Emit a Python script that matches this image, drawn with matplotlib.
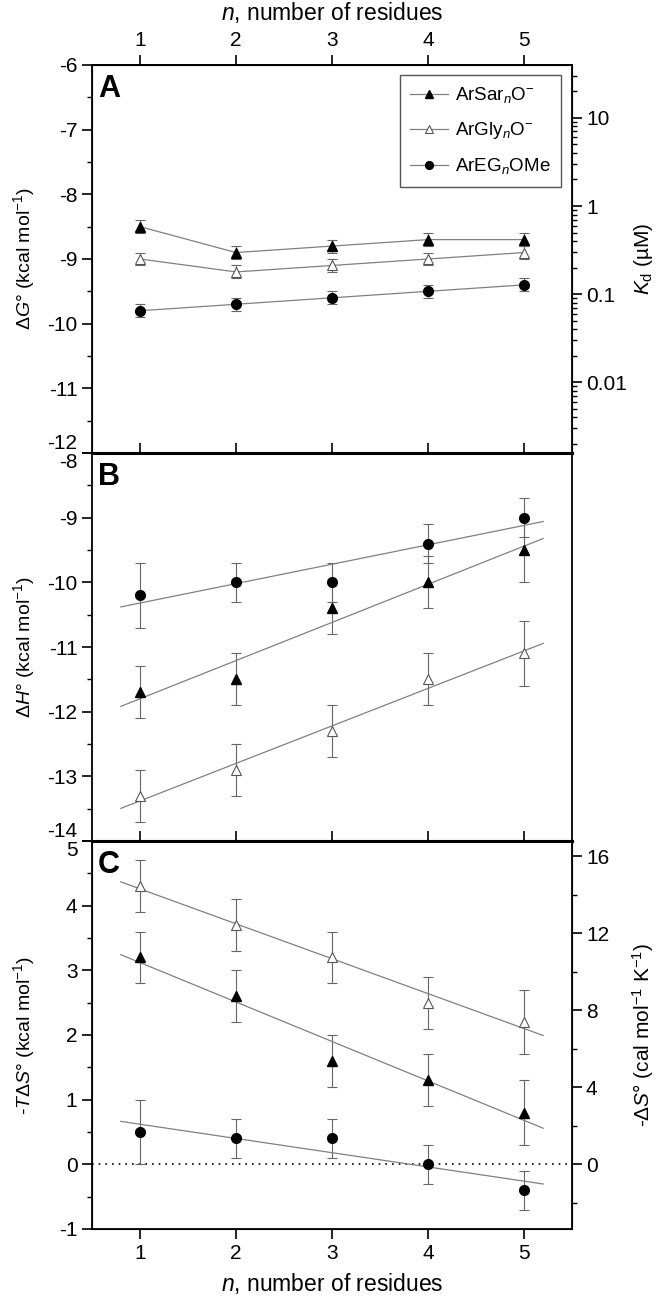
import numpy as np
import matplotlib
matplotlib.use("Agg")
import matplotlib.pyplot as plt
from matplotlib.ticker import MultipleLocator, FixedLocator, LogLocator, NullFormatter, NullLocator

plt.rcParams["font.family"] = ["Liberation Sans", "DejaVu Sans"]
plt.rcParams["mathtext.fontset"] = "custom"
plt.rcParams["mathtext.rm"] = "Liberation Sans"
plt.rcParams["mathtext.it"] = "Liberation Sans:italic"
plt.rcParams["mathtext.bf"] = "Liberation Sans:bold"
plt.rcParams["axes.unicode_minus"] = False

n = [1, 2, 3, 4, 5]

# A: free energy of binding (kcal/mol)
dG_sar = [-8.5, -8.9, -8.8, -8.7, -8.7]
dG_gly = [-9.0, -9.2, -9.1, -9.0, -8.9]
dG_eg = [-9.8, -9.7, -9.6, -9.5, -9.4]
dG_err = [0.1, 0.1, 0.1, 0.1, 0.1]

# B: enthalpy (kcal/mol)
dH_sar = [-11.7, -11.5, -10.4, -10.0, -9.5]
dH_gly = [-13.3, -12.9, -12.3, -11.5, -11.1]
dH_eg = [-10.2, -10.0, -10.0, -9.4, -9.0]
dH_sar_err = [0.4, 0.4, 0.4, 0.4, 0.5]
dH_gly_err = [0.4, 0.4, 0.4, 0.4, 0.5]
dH_eg_err = [0.5, 0.3, 0.3, 0.3, 0.3]

# C: -T dS (kcal/mol)
TdS_sar = [3.2, 2.6, 1.6, 1.3, 0.8]
TdS_gly = [4.3, 3.7, 3.2, 2.5, 2.2]
TdS_eg = [0.5, 0.4, 0.4, 0.0, -0.4]
TdS_sar_err = [0.4, 0.4, 0.4, 0.4, 0.5]
TdS_gly_err = [0.4, 0.4, 0.4, 0.4, 0.5]
TdS_eg_err = [0.5, 0.3, 0.3, 0.3, 0.3]

labels = [r"ArSar$_n$O$^{-}$", r"ArGly$_n$O$^{-}$", r"ArEG$_n$OMe"]
T = 298.0
R = 1.987e-3

line_c = "#808080"
err_c = "#666666"
styles = [dict(marker="^", mfc="black", mec="black", ms=7.5),
          dict(marker="^", mfc="white", mec="#555555", ms=7.5, mew=0.8),
          dict(marker="o", mfc="black", mec="black", ms=7)]


def kd(g):
    return np.exp(g / (R * T)) * 1e6


fig = plt.figure(figsize=(6.63, 13.03), dpi=100)
left, width = 92 / 663, 480 / 663
h = 388 / 1303
bot = 1 - 1229 / 1303
axA = fig.add_axes([left, bot + 2 * h, width, h])
axB = fig.add_axes([left, bot + h, width, h])
axC = fig.add_axes([left, bot, width, h])

# panel A
for y, st, lab in zip([dG_sar, dG_gly, dG_eg], styles, labels):
    axA.errorbar(n, y, yerr=dG_err, fmt="none", ecolor=err_c, elinewidth=0.8,
                 capsize=3.5, capthick=0.8)
    axA.plot(n, y, color=line_c, lw=0.9, label=lab, **st)

leg = axA.legend(loc="upper right", bbox_to_anchor=(0.977, 0.974), borderaxespad=0,
                 fontsize=13.5, fancybox=False, edgecolor="#555555", framealpha=1,
                 handlelength=2.0, labelspacing=0.8, borderpad=0.55, handletextpad=0.4,
                 markerscale=0.8)
leg.get_frame().set_linewidth(1.0)

axA.set_ylim(-12, -6)
axA.set_yticks(np.arange(-12, -5))
axA.set_ylabel(r"$\Delta G$° (kcal mol$^{-1}$)", fontsize=14)

axr = axA.twinx()
axr.set_yscale("log")
axr.set_ylim(kd(-12), kd(-6))
axr.yaxis.set_major_locator(FixedLocator([0.01, 0.1, 1, 10]))
axr.set_yticklabels(["0.01", "0.1", "1", "10"])
axr.yaxis.set_minor_locator(LogLocator(base=10, subs=np.arange(2, 10), numticks=20))
axr.yaxis.set_minor_formatter(NullFormatter())
axr.tick_params(axis="y", which="major", direction="out", length=7, width=1.2, labelsize=15, pad=3)
axr.tick_params(axis="y", which="minor", direction="out", length=3.5, width=1.0)
axr.set_ylabel(r"$K_\mathrm{d}$ (µM)", fontsize=15)
axr.yaxis.set_label_coords(1.125, 0.5)

top = axA.secondary_xaxis("top")
top.set_xticks(n)
top.tick_params(direction="out", length=7, width=1.2, labelsize=15, pad=4)
top.set_xlabel(r"$n$, number of residues", fontsize=16.5, labelpad=8)
top.spines["top"].set_linewidth(1.3)

# panel B
for y, e, st in zip([dH_sar, dH_gly, dH_eg], [dH_sar_err, dH_gly_err, dH_eg_err], styles):
    axB.errorbar(n, y, yerr=e, fmt="none", ecolor=err_c, elinewidth=0.8,
                 capsize=3.5, capthick=0.8)
    k, b = np.polyfit(n, y, 1)
    xf = np.array([0.8, 5.2])
    axB.plot(xf, k * xf + b, color=line_c, lw=0.9)
    axB.plot(n, y, linestyle="none", **st)
axB.set_ylim(-14, -8)
axB.set_yticks(np.arange(-14, -7))
axB.set_ylabel(r"$\Delta H$° (kcal mol$^{-1}$)", fontsize=14)

# panel C
axC.axhline(0, color="black", lw=1.2, ls=(0, (1, 3)))
for y, e, st in zip([TdS_sar, TdS_gly, TdS_eg], [TdS_sar_err, TdS_gly_err, TdS_eg_err], styles):
    axC.errorbar(n, y, yerr=e, fmt="none", ecolor=err_c, elinewidth=0.8,
                 capsize=3.5, capthick=0.8)
    k, b = np.polyfit(n, y, 1)
    xf = np.array([0.8, 5.2])
    axC.plot(xf, k * xf + b, color=line_c, lw=0.9)
    axC.plot(n, y, linestyle="none", **st)
axC.set_ylim(-1, 5)
axC.set_yticks(np.arange(-1, 6))
axC.set_ylabel(r"-$T\Delta S$° (kcal mol$^{-1}$)", fontsize=14)
axC.set_xlabel(r"$n$, number of residues", fontsize=16.5, labelpad=6)

axs = axC.twinx()
axs.set_ylim(-1000 / T, 5000 / T)
axs.set_yticks([0, 4, 8, 12, 16])
axs.yaxis.set_minor_locator(MultipleLocator(2))
axs.tick_params(axis="y", which="major", direction="out", length=7, width=1.2, labelsize=15, pad=3)
axs.tick_params(axis="y", which="minor", direction="out", length=3.5, width=1.0)
axs.set_ylabel(r"-$\Delta S$° (cal mol$^{-1}$ K$^{-1}$)", fontsize=15)
axs.yaxis.set_label_coords(1.12, 0.5)

for ax, letter in zip([axA, axB, axC], ["A", "B", "C"]):
    ax.set_xlim(0.5, 5.5)
    ax.set_xticks(n)
    ax.yaxis.set_minor_locator(MultipleLocator(0.5))
    ax.tick_params(axis="y", which="major", direction="out", length=7, width=1.2,
                   labelsize=15, right=False)
    ax.tick_params(axis="y", which="minor", direction="out", length=3.5, width=1.0, right=False)
    ax.yaxis.set_label_coords(-0.115, 0.5)
    for s in ax.spines.values():
        s.set_linewidth(1.3)
    ax.text(0.012, 0.978, letter, transform=ax.transAxes, fontsize=22,
            fontweight="bold", va="top", ha="left")

for ax in [axA, axB]:
    ax.tick_params(axis="x", which="major", direction="inout", length=14, width=1.2,
                   labelbottom=False, top=False)
    ax.spines["bottom"].set_linewidth(2.2)
axC.tick_params(axis="x", which="major", direction="out", length=7, width=1.2,
                labelsize=15, top=False)
axB.spines["top"].set_linewidth(2.2)
axC.spines["top"].set_linewidth(2.2)

# shift the clashing labels at the panel boundaries
axA.get_yticklabels()[0].set_va("bottom")
axB.get_yticklabels()[-1].set_va("top")
axB.get_yticklabels()[0].set_va("bottom")
axC.get_yticklabels()[-1].set_va("top")

fig.savefig("out.png", dpi=100)
